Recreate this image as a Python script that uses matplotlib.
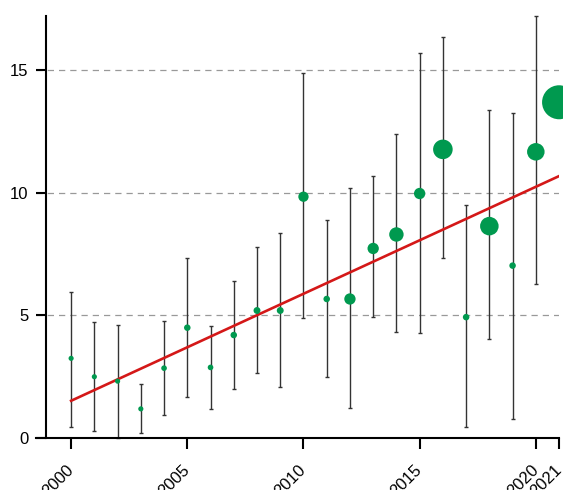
import matplotlib
matplotlib.use("Agg")
import matplotlib.pyplot as plt
import numpy as np

plt.rcParams["font.family"] = ["Liberation Sans", "DejaVu Sans"]

# yearly estimates with lower / upper interval bounds
years = [2000, 2001, 2002, 2003, 2004, 2005, 2006, 2007, 2008, 2009, 2010,
         2011, 2012, 2013, 2014, 2015, 2016, 2017, 2018, 2019, 2020, 2021]
estimate = [3.25, 2.50, 2.32, 1.19, 2.85, 4.50, 2.88, 4.20, 5.20, 5.20, 9.84,
            5.67, 5.67, 7.73, 8.30, 9.97, 11.77, 4.93, 8.64, 7.03, 11.67, 13.69]
lower = [0.47, 0.27, 0.00, 0.19, 0.95, 1.68, 1.18, 2.00, 2.64, 2.09, 4.90,
         2.50, 1.24, 4.95, 4.31, 4.27, 7.35, 0.46, 4.04, 0.77, 6.27, 13.69]
upper = [5.96, 4.73, 4.61, 2.19, 4.76, 7.35, 4.58, 6.41, 7.77, 8.37, 14.87,
         8.91, 10.18, 10.68, 12.41, 15.68, 16.35, 9.50, 13.37, 13.26, 17.22, 13.69]
# relative weight of each year (marker area)
weights = [25, 25, 25, 25, 30, 40, 30, 40, 45, 45, 100,
           40, 121, 121, 196, 121, 361, 40, 324, 40, 289, 1089]

# fitted trend at the ends of the period
trend_years = [2000, 2021]
trend_values = [1.52, 10.68]

y_ticks = [0, 5, 10, 15]
x_ticks = [2000, 2005, 2010, 2015, 2020, 2021]

GREEN = "#00994f"
RED = "#d41818"

fig = plt.figure(figsize=(5.63, 4.90), dpi=100)
ax = fig.add_axes([0.064, 0.106, 0.929, 0.861])

yrs = np.array(years)
est = np.array(estimate)
yerr = np.vstack([est - np.array(lower), np.array(upper) - est])

ax.errorbar(yrs, est, yerr=yerr, fmt="none", ecolor="#333333",
            elinewidth=1.0, capsize=1.6, capthick=1.0, zorder=2, clip_on=False)
ax.plot(trend_years, trend_values, color=RED, lw=1.9, zorder=3)
ax.scatter(yrs, est, s=np.array(weights) * 0.55, color=GREEN,
           edgecolors="none", zorder=4, clip_on=False)

ax.set_xlim(1998.49, 2021)
ax.set_ylim(0, 17.2)

for v in y_ticks[1:]:
    ax.axhline(v, color="#999999", lw=0.9, ls=(0, (5, 4)), zorder=1)

ax.spines["top"].set_visible(False)
ax.spines["right"].set_visible(False)
ax.spines["left"].set_position(("axes", 0.019))
ax.spines["left"].set_linewidth(1.5)
ax.spines["bottom"].set_linewidth(1.5)

ax.set_yticks(y_ticks)
ax.set_xticks(x_ticks)
ax.tick_params(axis="y", length=7, width=1.5, pad=5.5, labelsize=12)
ax.tick_params(axis="x", length=8, width=1.5, pad=13, labelsize=12)
for lab in ax.get_xticklabels():
    lab.set_rotation(45)
    lab.set_ha("right")
    lab.set_va("center")
    lab.set_rotation_mode("anchor")

fig.savefig("out.png", dpi=100)
